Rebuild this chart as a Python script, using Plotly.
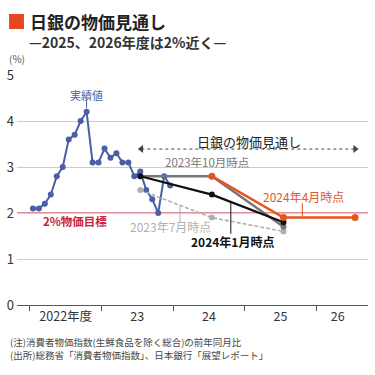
import plotly.graph_objects as go

# ---------------- data ----------------
# actual core CPI (y/y %), monthly, Apr 2022 - Mar 2024
actual_months = ["2022-04", "2022-05", "2022-06", "2022-07", "2022-08", "2022-09",
                 "2022-10", "2022-11", "2022-12", "2023-01", "2023-02", "2023-03",
                 "2023-04", "2023-05", "2023-06", "2023-07", "2023-08", "2023-09",
                 "2023-10", "2023-11", "2023-12", "2024-01", "2024-02", "2024-03"]
actual_values = [2.1, 2.1, 2.2, 2.4, 2.8, 3.0, 3.6, 3.7, 4.0, 4.2, 3.1, 3.1,
                 3.4, 3.2, 3.3, 3.1, 3.1, 2.8, 2.9, 2.5, 2.3, 2.0, 2.8, 2.6]

# BOJ outlook (fiscal-year forecasts)
fc_2023_07_fy = [2023, 2024, 2025]
fc_2023_07_val = [2.5, 1.9, 1.6]
fc_2023_10_fy = [2023, 2024, 2025]
fc_2023_10_val = [2.8, 2.8, 1.7]
fc_2024_01_fy = [2023, 2024, 2025]
fc_2024_01_val = [2.8, 2.4, 1.8]
fc_2024_04_fy = [2024, 2025, 2026]
fc_2024_04_val = [2.8, 1.9, 1.9]

fy_tick_labels = ["2022年度", "23", "24", "25", "26"]
fy_label_pos = [2022.5, 2023.5, 2024.5, 2025.5, 2026.3]
fy_bounds = [2022, 2023, 2024, 2025, 2026]
target = 2.0

# ---------------- helpers ----------------
def month_to_fy(m):
    y, mo = int(m[:4]), int(m[5:])
    fy = y if mo >= 4 else y - 1
    idx = (mo - 4) % 12
    return fy + (idx + 0.5) / 12

def fy_to_x(fy):
    # forecasts plotted at October of the fiscal year
    return fy + 6.5 / 12

ax = [month_to_fy(m) for m in actual_months]

W, H = 375, 375
L, R, T, B = 15, 7, 75, 70
XMIN = 2022 - 13 / 72
XMAX = 2022 + 340 / 72
PW, PH = W - L - R, H - T - B

def px(x):
    return (x - L) / PW

def py(y):
    return (H - B - y) / PH

FONT = "Noto Sans CJK JP"
BLUE = "#4a5fa5"
ORANGE = "#e5561f"
DGRAY = "#777777"
LGRAY = "#b0b0b0"
RED = "#c4253a"

fig = go.Figure()

# target line
fig.add_shape(type="line", xref="x", yref="y", x0=XMIN, x1=XMAX, y0=target, y1=target,
              line=dict(color=RED, width=1.1), layer="below")

fig.add_trace(go.Scatter(x=ax, y=actual_values, mode="lines+markers",
                         line=dict(color=BLUE, width=2), marker=dict(size=6, color=BLUE),
                         hoverinfo="skip"))

fig.add_trace(go.Scatter(x=[fy_to_x(f) for f in fc_2023_07_fy], y=fc_2023_07_val,
                         mode="lines+markers", line=dict(color=LGRAY, width=1.6, dash="4px,2px"),
                         marker=dict(size=6, color=LGRAY), hoverinfo="skip"))
fig.add_trace(go.Scatter(x=[fy_to_x(f) for f in fc_2023_10_fy], y=fc_2023_10_val,
                         mode="lines+markers", line=dict(color=DGRAY, width=2.5),
                         marker=dict(size=6, color=DGRAY), hoverinfo="skip"))
fig.add_trace(go.Scatter(x=[fy_to_x(f) for f in fc_2024_01_fy], y=fc_2024_01_val,
                         mode="lines+markers", line=dict(color="#111111", width=2.2),
                         marker=dict(size=6, color="#111111"), hoverinfo="skip"))
fig.add_trace(go.Scatter(x=[fy_to_x(f) for f in fc_2024_04_fy], y=fc_2024_04_val,
                         mode="lines+markers", line=dict(color=ORANGE, width=2.5),
                         marker=dict(size=7, color=ORANGE), hoverinfo="skip"))

# dotted double arrow for outlook period
ay = 3.39
fig.add_trace(go.Scatter(x=[2023.556, 2026.542], y=[ay, ay], mode="lines+markers",
                         line=dict(color="#444444", width=1, dash="dot"),
                         marker=dict(symbol=["triangle-left", "triangle-right"], size=7,
                                     color="#444444"), hoverinfo="skip"))

# leader lines
leaders = [
    (ax[9], 4.47, 4.28, BLUE),
    (2025.806, 2.21, 1.92, ORANGE),
    (2024.097, 2.15, 1.80, LGRAY),
    (2024.806, 2.22, 1.55, "#111111"),
]
for lx, y0, y1, c in leaders:
    fig.add_shape(type="line", xref="x", yref="y", x0=lx, x1=lx, y0=y0, y1=y1,
                  line=dict(color=c, width=1))

def ann(x, y, text, color, size, bold=False, xref="x", yref="y", xanchor="center"):
    t = f"<b>{text}</b>" if bold else text
    fig.add_annotation(x=x, y=y, xref=xref, yref=yref, text=t, showarrow=False,
                       xanchor=xanchor, yanchor="middle",
                       font=dict(family=FONT, size=size, color=color))

ann(ax[9], 4.56, "実績値", BLUE, 11)
ann(2025.06, 3.55, "日銀の物価見通し", "#222222", 13)
ann(2024.47, 3.10, "2023年10月時点", DGRAY, 11.5)
ann(2025.82, 2.36, "2024年4月時点", ORANGE, 12)
ann(2023.97, 1.70, "2023年7月時点", LGRAY, 12)
ann(2024.83, 1.37, "2024年1月時点", "#111111", 12, bold=True)
ann(2022.63, 1.83, "2%物価目標", RED, 11.5, bold=True)

# title block
fig.add_shape(type="rect", xref="paper", yref="paper", x0=px(7), x1=px(22), y0=py(29), y1=py(14),
              fillcolor="#e8461e", line=dict(width=0))
ann(px(26), py(21), "<b>日銀の物価見通し</b>", "#222222", 17, xref="paper", yref="paper", xanchor="left")
ann(px(25), py(42), "<b>—2025、2026年度は2%近く—</b>", "#333333", 14, xref="paper", yref="paper", xanchor="left")
ann(px(5), py(59), "(%)", "#555555", 10, xref="paper", yref="paper", xanchor="left")
ann(px(6), py(342), "(注)消費者物価指数(生鮮食品を除く総合)の前年同月比", "#444444", 9.5,
    xref="paper", yref="paper", xanchor="left")
ann(px(6), py(355), "(出所)総務省「消費者物価指数」、日本銀行「展望レポート」", "#444444", 9.5,
    xref="paper", yref="paper", xanchor="left")

fig.update_layout(
    width=W, height=H, margin=dict(l=L, r=R, t=T, b=B),
    paper_bgcolor="white", plot_bgcolor="white", showlegend=False,
    font=dict(family=FONT, color="#333333"),
    xaxis=dict(range=[XMIN, XMAX], tickmode="array", tickvals=fy_label_pos,
               ticktext=fy_tick_labels, ticks="", showgrid=False, zeroline=False,
               showline=True, linecolor="#555555", linewidth=1,
               tickfont=dict(family=FONT, size=12.5, color="#333333"),
               minor=dict(tickmode="array", tickvals=fy_bounds, ticks="outside",
                          ticklen=5, tickcolor="#555555", tickwidth=1, showgrid=False),
               fixedrange=True),
    yaxis=dict(range=[0, 5], tickvals=[0, 1, 2, 3, 4, 5], showgrid=True,
               gridcolor="#cccccc", gridwidth=1, zeroline=False, ticks="",
               tickfont=dict(family=FONT, size=13, color="#333333"), ticklabelstandoff=2,
               fixedrange=True),
)

fig.write_html("out.html", config={"displayModeBar": False},
               post_script="document.body.style.margin='0';")
